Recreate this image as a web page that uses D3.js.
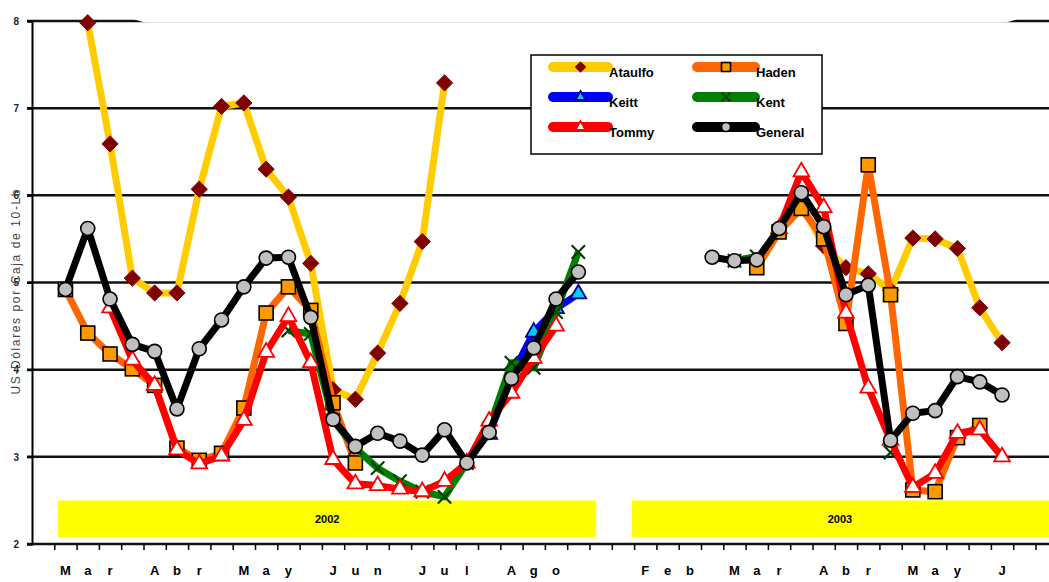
<!DOCTYPE html>
<html>
<head>
<meta charset="utf-8">
<script src="https://cdn.jsdelivr.net/npm/d3@7"></script>
<style>
  body { margin: 0; background: #fff; }
  svg { display: block; }
  text { font-family: "Liberation Sans Narrow", "Liberation Sans", Arial, sans-serif; }
</style>
</head>
<body>
<div id="chart"></div>
<script>
// weekly categories, one letter per week (Excel style)
const weekLabels = ["", "M","a","r","", "A","b","r","", "M","a","y","", "J","u","n","", "J","u","l","",
  "A","g","o","", "", "", "F","e","b","", "M","a","r","", "A","b","r","", "M","a","y","", "J","", ""];

const yTicks = [2, 3, 4, 5, 6, 7, 8];

// prices per week, null = no data
const ataulfo = [null, null, 7.98, 6.59, 5.05, 4.88, 4.88, 6.07, 7.02, 7.06, 6.30, 5.98, 5.22, 3.77, 3.66, 4.19, 4.76, 5.47, 7.29,
  null, null, null, null, null, null, null, null, null, null, null, null, null, null, null,
  5.90, 5.42, 5.17, 5.10, 4.91, 5.51, 5.50, 5.39, 4.71, 4.31, null, null];
const haden = [null, 4.92, 4.42, 4.18, 4.01, 3.82, 3.10, 2.96, 3.04, 3.56, 4.65, 4.95, 4.68, 3.62, 2.93,
  null, null, null, null, null, null, null, null, null, null, null, null, null, null, null, null, null,
  5.17, 5.58, 5.85, 5.50, 4.53, 6.35, 4.86, 2.62, 2.60, 3.22, 3.36, null, null, null];
const keitt = [null, null, null, null, null, null, null, null, null, null, null, null, null, null, null, null, null, null, null, null,
  3.26, 3.93, 4.43, 4.70, 4.87, null, null, null, null, null, null, null, null, null, null, null, null, null, null, null,
  null, null, null, null, null, null];
const kent = [null, null, null, null, null, null, null, null, null, null, null,
  4.45, 4.41, 3.42, 3.10, 2.87, 2.72, 2.60, 2.54, 2.93, 3.33, 4.08, 4.02, 4.66, 5.35,
  null, null, null, null, null, null, 5.25, 5.30, null, null, null, null, null, 3.05,
  null, null, null, null, null, null, null];
const tommy = [null, null, null, 4.71, 4.11, 3.82, 3.08, 2.92, 3.01, 3.42, 4.20, 4.61, 4.08, 2.97, 2.69, 2.67, 2.63, 2.60, 2.72, 2.93, 3.41, 3.73, 4.13, 4.50,
  null, null, null, null, null, null, null, null, null,
  5.62, 6.27, 5.86, 4.65, 3.79, 3.19, 2.65, 2.81, 3.27, 3.31, 3.00, null, null];
const general = [null, 4.92, 5.62, 4.81, 4.29, 4.21, 3.55, 4.24, 4.57, 4.95, 5.28, 5.29, 4.60, 3.43, 3.12, 3.27, 3.18, 3.02, 3.31, 2.93, 3.28, 3.90, 4.25, 4.81, 5.12,
  null, null, null, null, null,
  5.29, 5.25, 5.26, 5.62, 6.03, 5.64, 4.86, 4.97, 3.19, 3.50, 3.53, 3.92, 3.86, 3.71, null, null];

const seriesNames = ["Ataulfo", "Haden", "Keitt", "Kent", "Tommy", "General"];
const seriesValues = [ataulfo, haden, keitt, kent, tommy, general];
const lineColors = ["#ffcc00", "#ff6600", "#0000ff", "#008000", "#ff0000", "#000000"];
const markerShapes = ["diamond", "square", "triangle", "cross", "triangle", "circle"];
const markerFills = ["#800000", "#ff9900", "#00ccff", "none", "#ffffff", "#c0c0c0"];
const markerStrokes = ["#800000", "#000000", "#000080", "#004000", "#ff0000", "#000000"];

// year bands (in week units)
const yearNames = ["2002", "2003"];
const yearFrom = [1.17, 26.9];
const yearTo = [25.3, 47];

const W = 1049, H = 582;
const svg = d3.select("#chart").append("svg")
  .attr("width", W)
  .attr("height", H);

const xBand = d3.scaleBand()
  .domain(d3.range(weekLabels.length))
  .range([32, 32 + 22.3 * weekLabels.length]);
const xLin = d3.scaleLinear()
  .domain([0, weekLabels.length])
  .range([32, 32 + 22.3 * weekLabels.length]);
const y = d3.scaleLinear()
  .domain([2, 8])
  .range([544, 21]);

const cx = i => xBand(i) + xBand.bandwidth() / 2;

// gridlines
svg.append("g")
  .selectAll("line")
  .data(yTicks.slice(1))
  .enter()
  .append("line")
  .attr("x1", 27)
  .attr("x2", W)
  .attr("y1", d => y(d))
  .attr("y2", d => y(d))
  .attr("stroke", "#111")
  .attr("stroke-width", 2.5);

// white box over the top line
svg.append("rect")
  .attr("x", 110)
  .attr("y", -57.5)
  .attr("width", 931)
  .attr("height", 80)
  .attr("rx", 40)
  .attr("fill", "#fff");

// year bands
svg.append("g")
  .selectAll("rect")
  .data(yearNames)
  .enter()
  .append("rect")
  .attr("x", (d, i) => xLin(yearFrom[i]))
  .attr("width", (d, i) => xLin(yearTo[i]) - xLin(yearFrom[i]))
  .attr("y", y(2.5))
  .attr("height", y(2.08) - y(2.5))
  .attr("fill", "#ffff00");

svg.append("g")
  .selectAll("text")
  .data(yearNames)
  .enter()
  .append("text")
  .attr("x", (d, i) => i == 0 ? (xLin(yearFrom[i]) + xLin(yearTo[i])) / 2 : 840)
  .attr("y", (y(2.5) + y(2.08)) / 2 + 4)
  .attr("text-anchor", "middle")
  .style("font-size", "11px")
  .style("font-weight", "bold")
  .text(d => d);

// y axis
const yAxis = svg.append("g")
  .attr("transform", "translate(32,0)")
  .call(d3.axisLeft(y).tickValues(yTicks).tickSize(5).tickPadding(8).tickFormat(d3.format("d")));
yAxis.select(".domain").attr("stroke", "#000").attr("stroke-width", 2);
yAxis.selectAll(".tick line").attr("stroke", "#000").attr("stroke-width", 2);
yAxis.selectAll("text")
  .style("font-size", "10px")
  .style("font-weight", "bold")
  .attr("fill", "#222");

svg.append("text")
  .attr("transform", "translate(20,292) rotate(-90)")
  .attr("text-anchor", "middle")
  .attr("textLength", 205)
  .attr("lengthAdjust", "spacing")
  .style("font-size", "12px")
  .attr("fill", "#444")
  .text("US-Dólares por Caja de 10-Lb");

// x axis: ticks at week boundaries
const xTicks = svg.append("g")
  .attr("transform", "translate(0," + y(2) + ")")
  .call(d3.axisBottom(xLin).tickValues(d3.range(1, weekLabels.length + 1)).tickSize(6).tickFormat(""));
xTicks.select(".domain").remove();
xTicks.selectAll(".tick line").attr("stroke", "#000").attr("stroke-width", 1.5);

svg.append("line")
  .attr("x1", 27)
  .attr("x2", W)
  .attr("y1", y(2))
  .attr("y2", y(2))
  .attr("stroke", "#111")
  .attr("stroke-width", 2.5);

const xLabels = svg.append("g")
  .attr("transform", "translate(0," + y(2) + ")")
  .call(d3.axisBottom(xBand).tickSize(0).tickPadding(22).tickFormat(i => weekLabels[i]));
xLabels.select(".domain").remove();
xLabels.selectAll("text")
  .style("font-size", "13px")
  .style("font-weight", "bold")
  .attr("fill", "#000");

// marker drawing
function marker(g, shape, size, fill, stroke) {
  if (shape == "diamond") {
    const s = size * 0.58;
    g.append("path").attr("d", `M0,${-s}L${s},0L0,${s}L${-s},0Z`)
      .attr("fill", fill).attr("stroke", stroke).attr("stroke-width", 1);
  } else if (shape == "square") {
    g.append("rect").attr("x", -size / 2).attr("y", -size / 2)
      .attr("width", size).attr("height", size)
      .attr("fill", fill).attr("stroke", stroke).attr("stroke-width", 1.6);
  } else if (shape == "triangle") {
    g.append("path").attr("d", d3.symbol(d3.symbolTriangle, size * size * 0.55)())
      .attr("fill", fill).attr("stroke", stroke).attr("stroke-width", 1.8);
  } else if (shape == "cross") {
    g.append("path").attr("d", d3.symbol(d3.symbolX, size * size * 0.6)())
      .attr("fill", "none").attr("stroke", stroke).attr("stroke-width", 2.2);
  } else {
    g.append("circle").attr("r", size / 2)
      .attr("fill", fill).attr("stroke", stroke).attr("stroke-width", 1.6);
  }
}

const line = d3.line()
  .defined(d => d != null)
  .x((d, i) => cx(i))
  .y(d => y(d));

seriesValues.forEach((vals, s) => {
  const g = svg.append("g");
  g.append("path")
    .datum(vals)
    .attr("d", line)
    .attr("fill", "none")
    .attr("stroke", lineColors[s])
    .attr("stroke-width", 7)
    .attr("stroke-linejoin", "round");
  vals.forEach((v, i) => {
    if (v == null) return;
    const m = g.append("g").attr("transform", `translate(${cx(i)},${y(v)})`);
    marker(m, markerShapes[s], 14, markerFills[s], markerStrokes[s]);
  });
});

// legend
const legend = svg.append("g");
legend.append("rect")
  .attr("x", 531)
  .attr("y", 55)
  .attr("width", 291)
  .attr("height", 99)
  .attr("fill", "#fff")
  .attr("stroke", "#000")
  .attr("stroke-width", 1.5);

seriesNames.forEach((name, s) => {
  const col = s % 2, row = Math.floor(s / 2);
  const x0 = col == 0 ? 553 : 697;
  const x1 = col == 0 ? 608 : 755;
  const yy = 67 + row * 30;
  legend.append("line")
    .attr("x1", x0).attr("x2", x1)
    .attr("y1", yy).attr("y2", yy)
    .attr("stroke", lineColors[s])
    .attr("stroke-width", 10)
    .attr("stroke-linecap", "round");
  const m = legend.append("g").attr("transform", `translate(${(x0 + x1) / 2},${yy})`);
  marker(m, markerShapes[s], 9, markerFills[s], markerStrokes[s]);
  legend.append("text")
    .attr("x", x1 + 1)
    .attr("y", yy + 10)
    .style("font-size", "13px")
    .style("font-weight", "bold")
    .text(name);
});
</script>
</body>
</html>
